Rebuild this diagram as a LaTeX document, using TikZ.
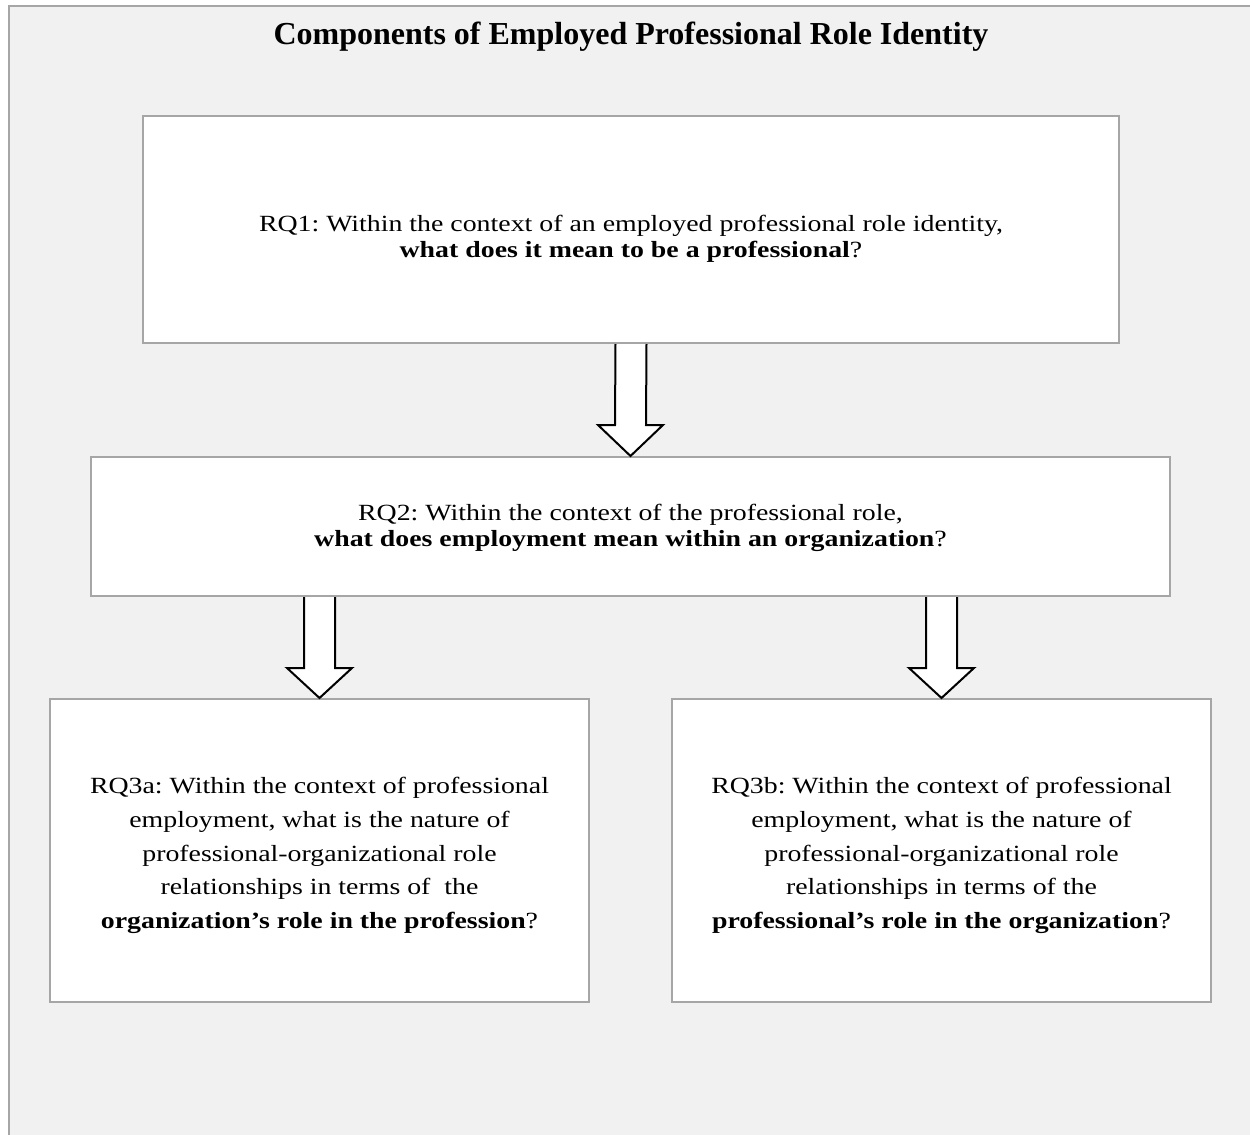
\documentclass[tikz,border=0pt]{standalone}
\usepackage{fontspec}
\setmainfont{Liberation Serif}[FakeStretch=1.2]
\newfontfamily\titlefont{Liberation Serif}
\usetikzlibrary{calc}
\definecolor{bgc}{HTML}{F1F1F1}
\definecolor{framec}{HTML}{A6A6A6}
\tikzset{
  qbox/.style={draw=framec, line width=1pt, fill=white, rectangle, inner sep=0pt},
  qtext/.style={align=center, inner sep=0pt, font=\fontsize{11.6pt}{13pt}\selectfont\frenchspacing},
  qtextwide/.style={qtext, font=\fontsize{11.6pt}{16.8pt}\selectfont\frenchspacing},
  blockarrow/.style={draw=black, fill=white, line width=1pt, line join=miter},
}
\begin{document}
\begin{tikzpicture}[x=0.5pt, y=-0.5pt]
\useasboundingbox (0,0) rectangle (1250,1135);
\fill[white] (0,0) rectangle (1250,1135);
\fill[bgc] (9,6) rectangle (1250,1135);
\draw[framec, line width=1pt] (9,1135) -- (9,6) -- (1250,6);
\node[font=\titlefont\fontsize{16pt}{18pt}\selectfont\bfseries] (title) at (631,37) {Components of Employed Professional Role Identity};
\node[qbox, minimum width=488pt, minimum height=113.5pt] (b1) at (631,229.5) {};
\node[qbox, minimum width=539.5pt, minimum height=69.5pt] (b2) at (630.5,526.5) {};
\node[qbox, minimum width=269.5pt, minimum height=151.5pt] (b3a) at (319.5,850.5) {};
\node[qbox, minimum width=269.5pt, minimum height=151.5pt] (b3b) at (941.5,850.5) {};
\node[qtext] (t1) at ($(b1.center)+(0,9)$)
  {RQ1: Within the context of an employed professional role identity,\\
   \textbf{what does it mean to be a professional}?};
\node[qtext] (t2) at ($(b2.center)+(0,1)$)
  {RQ2: Within the context of the professional role,\\
   \textbf{what does employment mean within an organization}?};
\node[qtextwide] (t3a) at ($(b3a.center)+(0,5)$)
  {RQ3a: Within the context of professional\\
   employment, what is the nature of\\
   professional-organizational role\\
   relationships in terms of\ \ the\\
   \textbf{organization’s role in the profession}?};
\node[qtextwide] (t3b) at ($(b3b.center)+(0,5)$)
  {RQ3b: Within the context of professional\\
   employment, what is the nature of\\
   professional-organizational role\\
   relationships in terms of the\\
   \textbf{professional’s role in the organization}?};
% arrow 1
\draw[blockarrow] ($(b1.south)+(-15.5,0)$) -- ($(b2.north)+(-15.5,-31)$) -- ($(b2.north)+(-32.5,-31)$)
  -- (b2.north) -- ($(b2.north)+(32.5,-31)$) -- ($(b2.north)+(15.5,-31)$) -- ($(b1.south)+(15.5,0)$);
% arrow 2a
\coordinate (s3a) at (b2.south -| b3a.north);
\draw[blockarrow] ($(s3a)+(-15.5,0)$) -- ($(b3a.north)+(-15.5,-30)$) -- ($(b3a.north)+(-32.5,-30)$)
  -- (b3a.north) -- ($(b3a.north)+(32.5,-30)$) -- ($(b3a.north)+(15.5,-30)$) -- ($(s3a)+(15.5,0)$);
% arrow 2b
\coordinate (s3b) at (b2.south -| b3b.north);
\draw[blockarrow] ($(s3b)+(-15.5,0)$) -- ($(b3b.north)+(-15.5,-30)$) -- ($(b3b.north)+(-32.5,-30)$)
  -- (b3b.north) -- ($(b3b.north)+(32.5,-30)$) -- ($(b3b.north)+(15.5,-30)$) -- ($(s3b)+(15.5,0)$);
\end{tikzpicture}
\end{document}
